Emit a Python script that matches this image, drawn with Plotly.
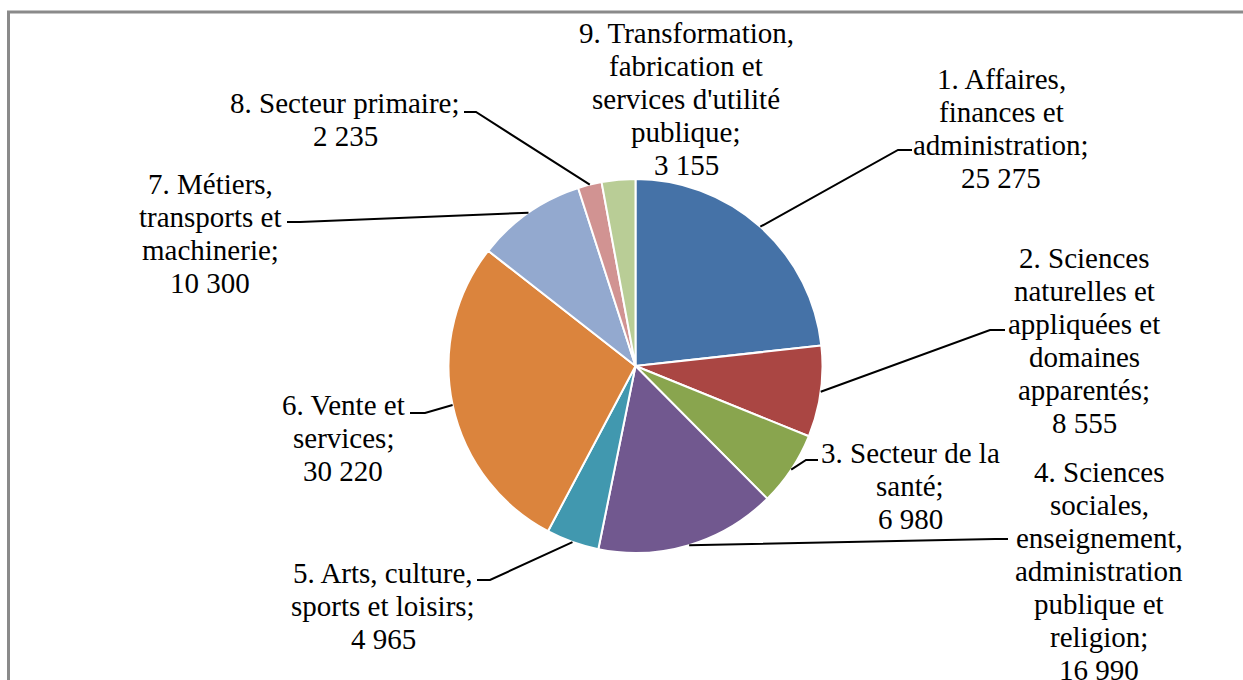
import math
import plotly.graph_objects as go

# ---------------- data ----------------
categories = [
    "1. Affaires,\nfinances et\nadministration",
    "2. Sciences\nnaturelles et\nappliquées et\ndomaines\napparentés",
    "3. Secteur de la\nsanté",
    "4. Sciences\nsociales,\nenseignement,\nadministration\npublique et\nreligion",
    "5. Arts, culture,\nsports et loisirs",
    "6. Vente et\nservices",
    "7. Métiers,\ntransports et\nmachinerie",
    "8. Secteur primaire",
    "9. Transformation,\nfabrication et\nservices d'utilité\npublique",
]
values = [25275, 8555, 6980, 16990, 4965, 30220, 10300, 2235, 3155]
colors = ["#4572A7", "#AA4643", "#89A54E", "#71588F", "#4198AF",
          "#DB843D", "#93A9CF", "#D19392", "#B9CD96"]

# ---------------- layout (pixels) ----------------
W, H = 1243, 680
CX, CY, R = 635.5, 366.0, 187.0
FONT = "Liberation Serif"
FS = 29
LINE_H = 33

# label block: centre x, first-line centre y
label_pos = [(1001, 79), (1084, 258), (910, 453), (1099, 472), (383, 573),
             (343, 405), (210, 184), (345, 103), (686, 33)]
# leader line elbow and end points (None = no leader)
leader = [((898, 150), (912, 150)), ((990, 330), (1005, 330)),
          ((806, 460), (818, 460)), ((995, 539), (1008, 539)),
          ((490, 580), (477, 580)), ((425, 413), (410, 413)),
          ((300, 222), (287, 222)), ((476, 112), (464, 112)), None]


def px(x):
    return x / W


def py(y):
    return 1 - y / H


def fmt(v):
    return f"{v:,}".replace(",", " ")


fig = go.Figure()
fig.add_trace(go.Pie(
    labels=[c.replace("\n", " ") for c in categories],
    values=values,
    sort=False,
    direction="clockwise",
    rotation=0,
    textinfo="none",
    marker=dict(colors=colors, line=dict(color="white", width=2)),
    domain=dict(x=[px(CX - R), px(CX + R)], y=[py(CY + R), py(CY - R)]),
    showlegend=False,
    hoverinfo="label+value",
))

annotations = []
shapes = []
total = sum(values)
cum = 0
for i, (cat, v) in enumerate(zip(categories, values)):
    mid = (cum + v / 2) / total * 2 * math.pi
    cum += v
    sx = CX + R * math.sin(mid)
    sy = CY - R * math.cos(mid)
    lines = (cat + ";\n" + fmt(v)).split("\n")
    lx, ly = label_pos[i]
    for k, line in enumerate(lines):
        annotations.append(dict(
            x=px(lx), y=py(ly + LINE_H * k), xref="paper", yref="paper",
            text=line, showarrow=False, xanchor="center", yanchor="middle",
            font=dict(family=FONT, size=FS, color="black")))
    if leader[i] is not None:
        (ex, ey), (tx, ty) = leader[i]
        path = (f"M {px(sx)},{py(sy)} L {px(ex)},{py(ey)} "
                f"L {px(tx)},{py(ty)}")
        shapes.append(dict(type="path", path=path, xref="paper", yref="paper",
                           line=dict(color="black", width=2)))

# chart frame
shapes.append(dict(type="rect", xref="paper", yref="paper",
                   x0=px(8.5), x1=px(W + 10), y0=py(H + 10), y1=py(12),
                   line=dict(color="#8a8a8a", width=3), layer="below"))

fig.update_layout(
    width=W, height=H,
    margin=dict(l=0, r=0, t=0, b=0),
    paper_bgcolor="white", plot_bgcolor="white",
    font=dict(family=FONT),
    annotations=annotations, shapes=shapes,
)

fig.write_html(
    "out.html",
    config={"displayModeBar": False},
    post_script="document.body.style.margin='0';"
                "document.body.style.overflow='hidden';",
)
